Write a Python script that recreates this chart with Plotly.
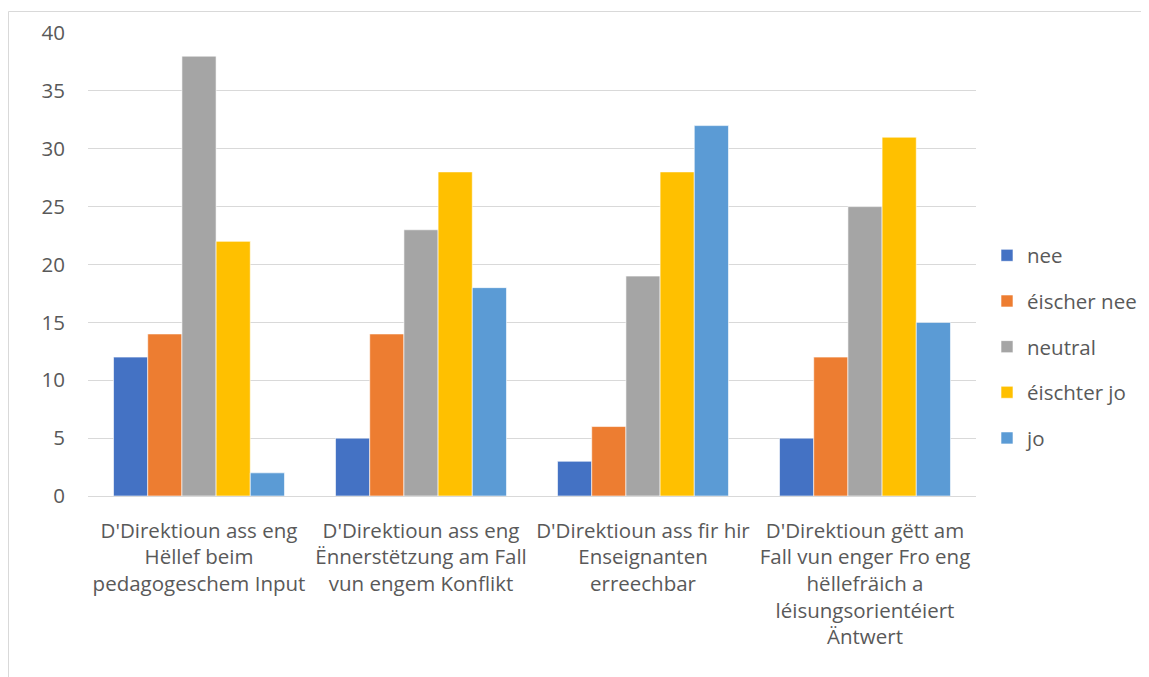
import plotly.graph_objects as go

categories = [
    "D'Direktioun ass eng<br>Hëllef beim<br>pedagogeschem Input",
    "D'Direktioun ass eng<br>Ënnerstëtzung am Fall<br>vun engem Konflikt",
    "D'Direktioun ass fir hir<br>Enseignanten<br>erreechbar",
    "D'Direktioun gëtt am<br>Fall vun enger Fro eng<br>hëllefräich a<br>léisungsorientéiert<br>Äntwert",
]
series_names = ["nee", "éischer nee", "neutral", "éischter jo", "jo"]
nee = [12, 5, 3, 5]
eischer_nee = [14, 14, 6, 12]
neutral = [38, 23, 19, 25]
eischter_jo = [22, 28, 28, 31]
jo = [2, 18, 32, 15]
series_values = [nee, eischer_nee, neutral, eischter_jo, jo]
colors = ["#4472C4", "#ED7D31", "#A5A5A5", "#FFC000", "#5B9BD5"]
y_ticks = [0, 5, 10, 15, 20, 25, 30, 35, 40]

FONT = "Open Sans"
FS = 20.5
TXT = "#595959"

fig = go.Figure()
for i, (name, vals) in enumerate(zip(series_names, series_values)):
    fig.add_trace(go.Bar(
        x=categories, y=vals, name=name,
        marker=dict(color=colors[i], line=dict(color="white", width=0.6)),
        legendgroup=name,
    ))

# page has 8px body margin; work in figure coordinates
W, H = 1141, 669
L, T = 80, 25
R = W - 968
B = H - 488
pw, ph = W - L - R, H - T - B

fig.update_layout(
    width=W, height=H,
    margin=dict(l=L, r=R, t=T, b=B, autoexpand=False),
    paper_bgcolor="white", plot_bgcolor="white",
    barmode="group", bargap=0.23, bargroupgap=0,
    font=dict(family=FONT, size=FS, color=TXT),
    legend=dict(
        x=(979 - L) / pw, xanchor="left",
        y=(488 - 339) / ph, yanchor="middle",
        tracegroupgap=16,
        font=dict(family=FONT, size=FS, color=TXT),
        bgcolor="rgba(0,0,0,0)",
    ),
    showlegend=True,
    xaxis=dict(
        showgrid=False, showline=True, linecolor="#D9D9D9", linewidth=1,
        ticks="", tickfont=dict(family=FONT, size=FS, color=TXT),
        ticklabelstandoff=16,
    ),
    yaxis=dict(
        range=[0, 40], tickvals=y_ticks, showgrid=True, gridcolor="#D9D9D9",
        gridwidth=1, zeroline=False, showline=False, ticks="",
        tickfont=dict(family=FONT, size=FS, color=TXT),
        ticklabelstandoff=22,
    ),
    shapes=[dict(
        type="rect", xref="paper", yref="paper",
        x0=(0.5 - L) / pw, x1=(1170 - L) / pw,
        y0=(488 - 700) / ph, y1=(488 - 3.5) / ph,
        line=dict(color="#D9D9D9", width=1), fillcolor="rgba(0,0,0,0)",
        layer="below",
    )],
)

fig.write_html("out.html")
